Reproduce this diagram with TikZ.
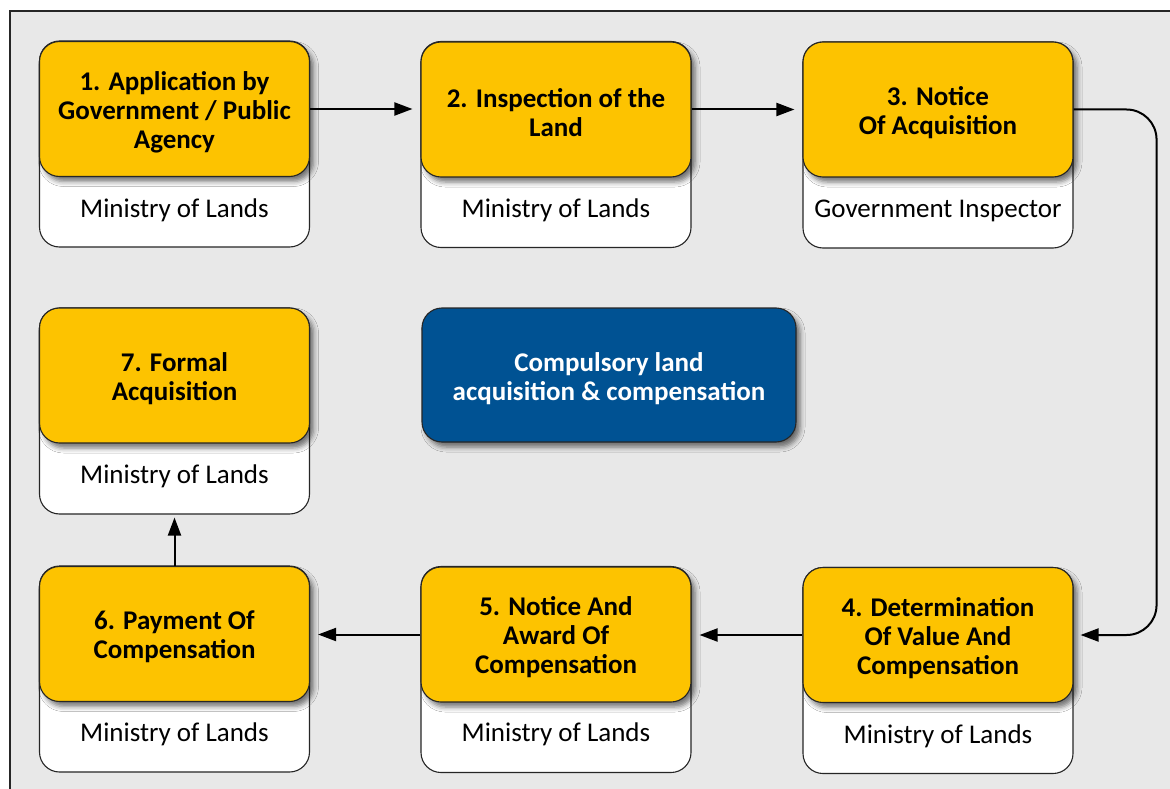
\documentclass[tikz,border=0pt]{standalone}
\usepackage{fontspec}
\setmainfont{Carlito}
\usetikzlibrary{arrows.meta,shadows.blur}
\definecolor{stepyellow}{HTML}{FDC300}
\definecolor{hubblue}{HTML}{005293}
\definecolor{panelgray}{HTML}{E8E8E8}
\tikzset{
  outerbox/.style={draw=black!85, line width=1.1pt, fill=white, rounded corners=20pt,
    minimum width=270pt, minimum height=206pt, inner sep=0pt},
  titlebox/.style={draw=black!85, line width=1.1pt, fill=stepyellow, rounded corners=20pt,
    minimum width=270pt, minimum height=135pt, inner sep=0pt,
    blur shadow={shadow xshift=4pt, shadow yshift=-5pt, shadow blur radius=5pt, shadow opacity=55}},
  titletext/.style={inner sep=0pt, align=center, font=\fontsize{27}{29}\selectfont\bfseries},
  hubbox/.style={draw=black!85, line width=1.1pt, fill=hubblue, rounded corners=20pt,
    minimum width=374pt, minimum height=134pt, inner sep=0pt,
    blur shadow={shadow xshift=4pt, shadow yshift=-5pt, shadow blur radius=5pt, shadow opacity=55}},
  hubtext/.style={inner sep=0pt, align=center, text=white, font=\fontsize{27}{29}\selectfont\bfseries},
  agency/.style={font=\fontsize{27}{30}\selectfont, inner sep=0pt},
  flow/.style={-{Triangle[length=18pt,width=13pt]}, line width=2pt, black}
}
\begin{document}
\begin{tikzpicture}[x=1pt,y=-1pt]
\useasboundingbox (0,0) rectangle (1170,789);
\fill[white] (0,0) rectangle (1170,789);
\fill[panelgray] (10,11) rectangle (1172,791);
\draw[black!85, line width=1.5pt] (10,791) -- (10,11) -- (1172,11);

% white outer boxes
\node[outerbox] (w1) at (174.5,144) {};
\node[outerbox] (w2) at (556,144.5) {};
\node[outerbox] (w3) at (938,145) {};
\node[outerbox] (w7) at (174.5,411) {};
\node[outerbox] (w6) at (174.5,669) {};
\node[outerbox] (w5) at (556,669.5) {};
\node[outerbox] (w4) at (938,670.5) {};

% agency labels
\node[agency] (a1) at (174.5,210) {Ministry of Lands};
\node[agency] (a2) at (556,210) {Ministry of Lands};
\node[agency] (a3) at (938,211) {Government Inspector};
\node[agency] (a7) at (174.5,476) {Ministry of Lands};
\node[agency] (a6) at (174.5,734) {Ministry of Lands};
\node[agency] (a5) at (556,734) {Ministry of Lands};
\node[agency] (a4) at (938,736) {Ministry of Lands};

% step boxes
\node[titlebox] (s1) at (174.5,109) {};
\node[titlebox] (s2) at (556,109.5) {};
\node[titlebox] (s3) at (938,109.5) {};
\node[titlebox] (s7) at (174.5,375.5) {};
\node[titlebox] (s6) at (174.5,634) {};
\node[titlebox] (s5) at (556,634.5) {};
\node[titlebox] (s4) at (938,635) {};

\node[titletext] (t1) at ([yshift=-3pt]s1.center) {1. Application by\\Government / Public\\Agency};
\node[titletext] (t2) at ([yshift=-3pt]s2.center) {2. Inspection of the\\Land};
\node[titletext] (t3) at ([yshift=-3pt]s3.center) {3. Notice\\Of Acquisition};
\node[titletext] (t7) at ([yshift=-3pt]s7.center) {7. Formal\\Acquisition};
\node[titletext] (t6) at ([yshift=-3pt]s6.center) {6. Payment Of\\Compensation};
\node[titletext] (t5) at ([yshift=-3pt]s5.center) {5. Notice And\\Award Of\\Compensation};
\node[titletext] (t4) at ([yshift=-3pt]s4.center) {4. Determination\\Of Value And\\Compensation};

\node[hubbox] (hub) at (609,375) {};
\node[hubtext] (ht) at ([yshift=-4pt]hub.center) {Compulsory land\\acquisition \& compensation};

% connectors
\draw[flow, shorten >=8pt] (s1.east) -- (s1.east -| s2.west);
\draw[flow, shorten >=8pt] (s2.east) -- (s2.east -| s3.west);
\draw[flow, rounded corners=30pt, shorten >=7pt] (s3.east) -- ++(83,0) |- (s4.east);
\draw[flow, shorten >=8pt] (s4.west) -- (s4.west -| s5.east);
\draw[flow, shorten >=8pt] (s5.west) -- (s5.west -| s6.east);
\draw[flow, shorten >=3pt] (s6.north) -- (w7.south);
\end{tikzpicture}
\end{document}
